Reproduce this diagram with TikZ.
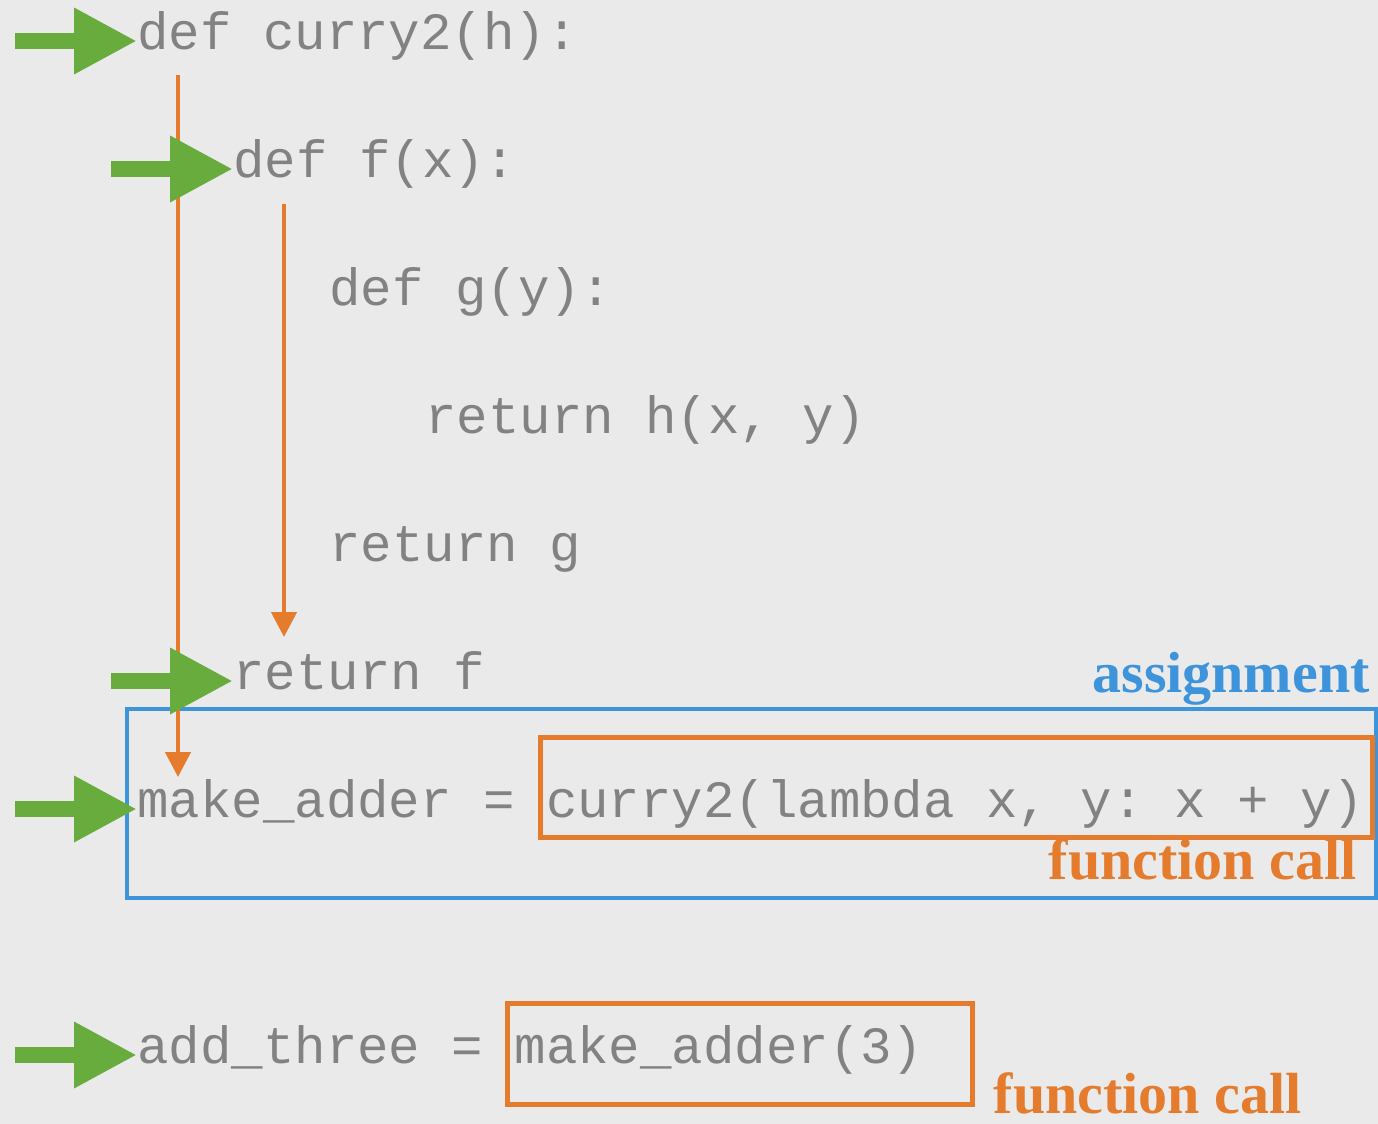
\documentclass[tikz,border=0pt]{standalone}
\usepackage{fontspec}
\setmainfont{Liberation Serif}
\setmonofont{Liberation Mono}
\usetikzlibrary{arrows.meta}
\definecolor{paper}{HTML}{EAEAEA}
\definecolor{codegray}{HTML}{828282}
\definecolor{gogreen}{HTML}{67AC3C}
\definecolor{callorange}{HTML}{E57B2D}
\definecolor{assignblue}{HTML}{3E94DA}
\begin{document}
\begin{tikzpicture}[x=0.5pt, y=-0.5pt,
    code/.style={anchor=base west, inner sep=0pt, text height=8pt, text depth=0pt,
      text=codegray, font=\fontsize{26.2}{30}\selectfont\ttfamily\frenchspacing},
    enter/.style={gogreen, line width=8pt, -{Triangle[length=31.5pt, width=31pt]}},
    flow/.style={callorange, line width=2.25pt, -{Triangle[length=12.5pt, width=12.5pt]}},
    callbox/.style={draw=callorange, line width=2.5pt, inner sep=0pt},
    tag/.style={anchor=base east, inner sep=0pt, font=\fontsize{29}{32}\selectfont\bfseries}]
    \fill[paper] (0,0) rectangle (1378,1124) ;
    \useasboundingbox (0,0) rectangle (1378,1124) ;
    \node[draw=assignblue, line width=2.25pt, inner sep=0pt, minimum width=624.5pt,
      minimum height=94.5pt] (assign) at (751.5,803.5) {} ;
    \coordinate (outer top) at (178,75) ;
    \coordinate (outer end) at (178,777) ;
    \coordinate (inner top) at (284,204) ;
    \coordinate (inner end) at (284,637) ;
    \draw[flow] (outer top) -- (outer end) ;
    \draw[flow] (inner top) -- (inner end) ;
    \node[code] (curry) at (137,49) {def curry2(h):} ;
    \node[code] (deff) at (233,177) {def f(x):} ;
    \node[code] (defg) at (329,305) {def g(y):} ;
    \node[code] (reth) at (425,433) {return h(x, y)} ;
    \node[code] (retg) at (329,561) {return g} ;
    \node[code] (retf) at (233,689) {return f} ;
    \node[code] (adder) at (137,817) {make\_adder = curry2(lambda x, y: x + y)} ;
    \node[code] (three) at (137,1063) {add\_three = make\_adder(3)} ;
    \draw[enter] ([xshift=-61pt]curry.west) -- (curry.west) ;
    \draw[enter] ([xshift=-61pt]deff.west) -- (deff.west) ;
    \draw[enter] ([xshift=-61pt]retf.west) -- (retf.west) ;
    \draw[enter] ([xshift=-61pt]adder.west) -- (adder.west) ;
    \draw[enter] ([xshift=-61pt]three.west) -- (three.west) ;
    \node[callbox, minimum width=416pt, minimum height=50pt] (call one) at (956,787) {} ;
    \node[callbox, minimum width=232.5pt, minimum height=50.5pt] (call two) at (739.5,1053.5) {} ;
    \node[tag, text=assignblue] (assign tag) at (1370,692) {assignment} ;
    \node[tag, text=callorange] (call one tag) at (1357,879) {function call} ;
    \node[tag, text=callorange] (call two tag) at (1302,1113) {function call} ;
\end{tikzpicture}
\end{document}
